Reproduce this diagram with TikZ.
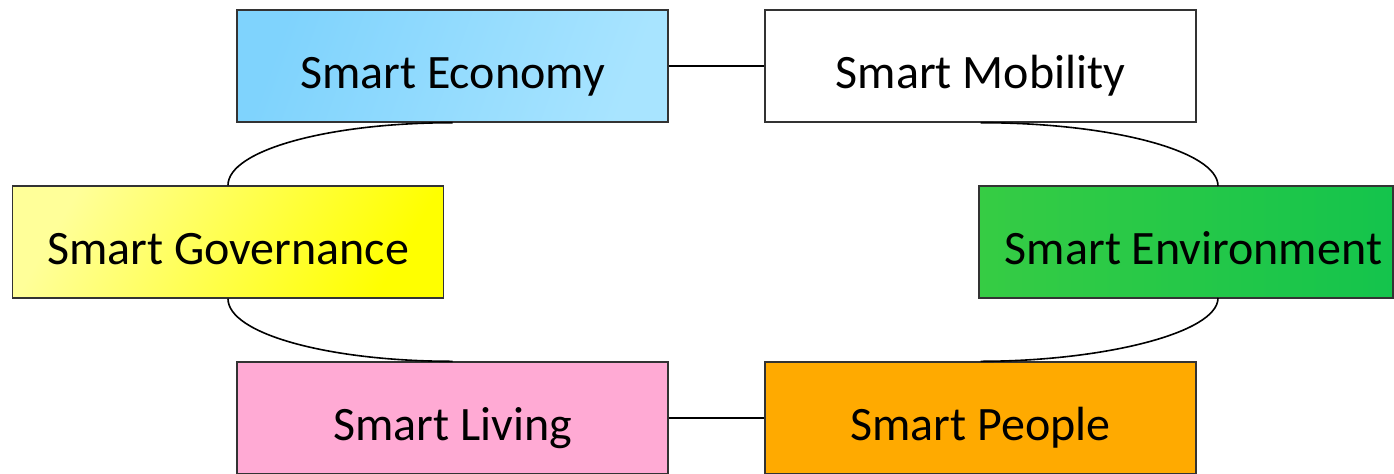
\documentclass[tikz,border=0pt]{standalone}
\usepackage{fontspec}
\setmainfont{Carlito}
\definecolor{ecoleft}{HTML}{7FD3FD}
\definecolor{ecoright}{HTML}{A8E4FF}
\definecolor{govlight}{HTML}{FFFF99}
\definecolor{govdark}{HTML}{FFFF00}
\definecolor{envleft}{HTML}{36CC44}
\definecolor{envright}{HTML}{14C44C}
\definecolor{livfill}{HTML}{FFAAD4}
\definecolor{peofill}{HTML}{FFAA00}
\begin{document}
\begin{tikzpicture}[
    x=0.5pt, y=-0.5pt,
    area/.style={draw=black!80, line width=0.7pt, minimum width=215.5pt,
      minimum height=56pt, inner sep=0pt, text height=22pt, text depth=0pt,
      font=\fontsize{24}{29}\selectfont},
    link/.style={line width=0.8pt}
]
  \useasboundingbox (0,0) rectangle (1394,473);
  % top row
  \node[area, left color=ecoleft, right color=ecoright, shading angle=70] (eco) at (452.5,66) {Smart Economy};
  \node[area, fill=white] (mob) at (980.5,66) {Smart Mobility};
  % middle row
  \node[area, left color=govlight, right color=govdark, shading angle=60] (gov) at (228,242) {Smart Governance};
  \node[area, minimum width=207pt, left color=envleft, right color=envright] (env) at (1186,242) {\hspace{7.5pt}Smart Environment};
  % bottom row
  \node[area, fill=livfill] (liv) at (452.5,418) {Smart Living};
  \node[area, fill=peofill] (peo) at (980.5,418) {Smart People};
  % the ring joining them
  \coordinate (envtop) at (1218,186);
  \coordinate (envbot) at (1218,298);
  \draw[link] (eco.east) -- (mob.west);
  \draw[link] (liv.east) -- (peo.west);
  \draw[link] (eco.south) .. controls +(-124,0) and +(0,-35) .. (gov.north);
  \draw[link] (gov.south) .. controls +(0,35) and +(-124,0) .. (liv.north);
  \draw[link] (mob.south) .. controls +(131,0) and +(0,-35) .. (envtop);
  \draw[link] (envbot) .. controls +(0,35) and +(122,0) .. (peo.north);
\end{tikzpicture}
\end{document}
